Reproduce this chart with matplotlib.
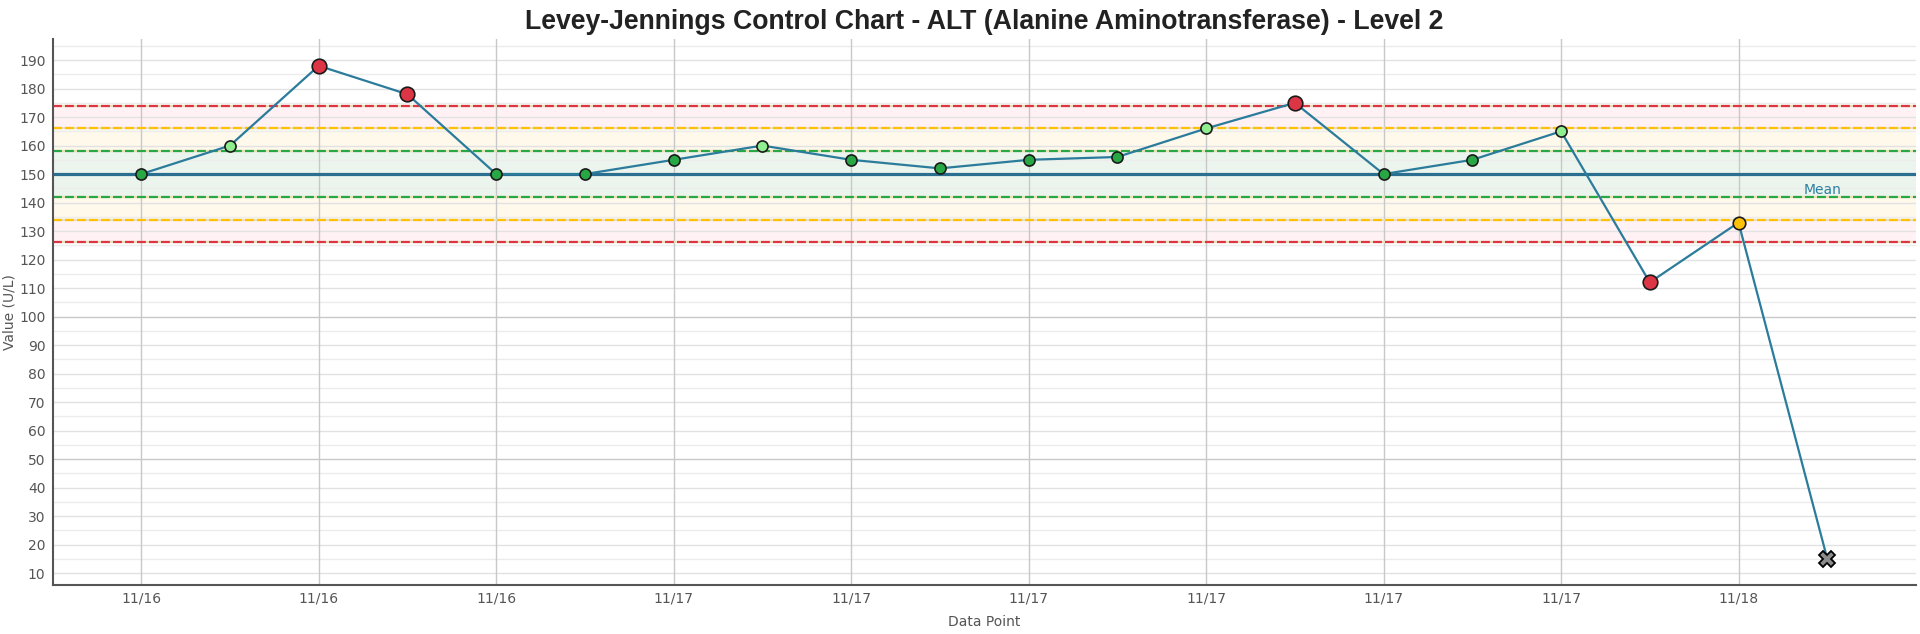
import numpy as np
import matplotlib
matplotlib.use("Agg")
import matplotlib.pyplot as plt
from matplotlib.transforms import blended_transform_factory

# data
values = [150, 160, 188, 178, 150, 150, 155, 160, 155, 152,
          155, 156, 166, 175, 150, 155, 165, 112, 133, 15]
status = ["ok", "warn", "reject", "reject", "ok", "ok", "ok", "warn", "ok", "ok",
          "ok", "ok", "warn", "reject", "ok", "ok", "warn", "reject", "alert", "error"]
tick_labels = ["11/16", "11/16", "11/16", "11/17", "11/17",
               "11/17", "11/17", "11/17", "11/17", "11/18"]
mean = 150
sd = 8

title = "Levey-Jennings Control Chart - ALT (Alanine Aminotransferase) - Level 2"

colors = {"ok": "#28a745", "warn": "#90ee90", "alert": "#ffc107", "reject": "#dc3545"}
sizes = {"ok": 8, "warn": 8, "alert": 9, "reject": 10.5}

plt.rcParams['font.family'] = ['DejaVu Sans']

fig = plt.figure(figsize=(19.2, 6.34), dpi=100)
ax = fig.add_axes([52.5 / 1920, 1 - 585 / 634, (1916 - 52.5) / 1920, (585 - 39) / 634])

x = np.arange(len(values))
ax.set_xlim(-1, 20)
ax.set_ylim(5.8, 197.4)

# bands
ax.axhspan(mean - 3 * sd, mean + 3 * sd, color="#fff1f4", zorder=0, lw=0)
ax.axhspan(mean - 2 * sd, mean + 2 * sd, color="#fff9ec", zorder=0.1, lw=0)
ax.axhspan(mean - sd, mean + sd, color="#ebf5ed", zorder=0.2, lw=0)

# grid
for yv in np.arange(10, 200, 5):
    if yv % 50 == 0:
        c = "#c8c8c8"
    elif yv % 10 == 0:
        c = "#e2e2e2"
    else:
        c = "#ececec"
    ax.axhline(yv, color=c, lw=1, zorder=0.5)
for xv in x[::2]:
    ax.axvline(xv, color="#c8c8c8", lw=1, zorder=0.5)

# control limits
limit_cols = {1: "#28a745", 2: "#ffc107", 3: "#dc3545"}
for k, c in limit_cols.items():
    for s in (-1, 1):
        ax.axhline(mean + s * k * sd, color="#eadfb5", lw=1.6, zorder=1)
        ax.axhline(mean + s * k * sd, color=c, lw=1.6, ls=(0, (4, 1.4)), zorder=1.1)
ax.axhline(mean, color="#2a6f8f", lw=2.3, zorder=1.2)
tr = blended_transform_factory(ax.transAxes, ax.transData)
ax.text(0.95, mean - 5.6, "Mean", transform=tr, ha="center", va="center",
        color="#2e7fa0", fontsize=10, zorder=3)

# series
ax.plot(x, values, color="#2b7b9b", lw=1.6, zorder=2)
for xi, v, st in zip(x, values, status):
    if st == "error":
        ax.plot(xi, v, marker="X", ms=11, mfc="#8c8c8c", mec="black", mew=1.3, zorder=4)
    else:
        ax.plot(xi, v, marker="o", ms=sizes[st], mfc=colors[st], mec="#1a1a1a", mew=1.2, zorder=4)

ax.set_xticks(x[::2])
ax.set_xticklabels(tick_labels)
ax.set_yticks(np.arange(10, 200, 10))
ax.tick_params(length=0, labelsize=10, labelcolor="#555555", pad=5)

for sp in ("top", "right"):
    ax.spines[sp].set_visible(False)
for sp in ("left", "bottom"):
    ax.spines[sp].set_color("#555555")
    ax.spines[sp].set_linewidth(1.5)

fig.text(10 / 1920, 1 - 312 / 634, "Value (U/L)", rotation=90, ha="center", va="center",
         fontsize=10, color="#555555")
fig.text(984 / 1920, 1 - 622 / 634, "Data Point", ha="center", va="center",
         fontsize=10, color="#555555")
fig.text(984 / 1920, 1 - 22 / 634, title, ha="center", va="center", fontsize=19.2,
         fontweight="bold", color="#222222", family=["Liberation Sans", "DejaVu Sans"])

fig.savefig("out.png", dpi=100)
